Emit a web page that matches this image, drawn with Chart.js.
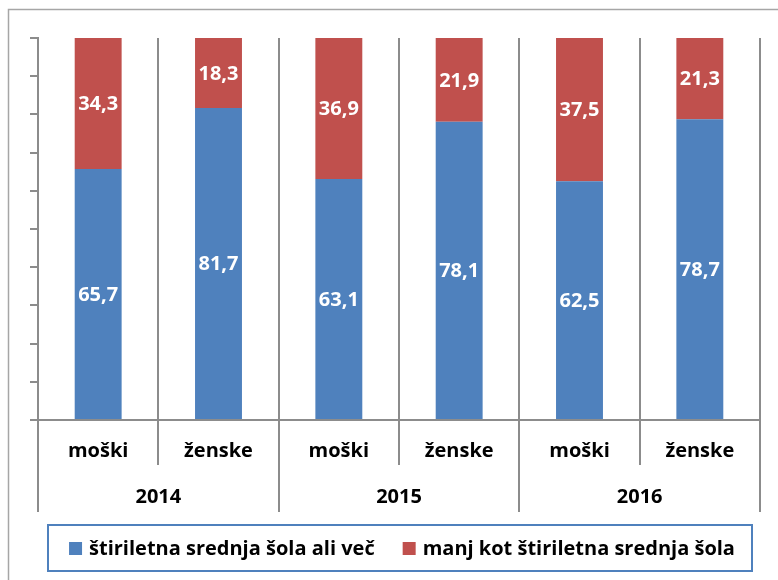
<!DOCTYPE html>
<html>
<head>
<meta charset="utf-8">
<script src="https://cdn.jsdelivr.net/npm/chart.js@4"></script>
<style>
  html, body { margin: 0; padding: 0; background: #fff; }
  canvas { display: block; }
</style>
</head>
<body>
<canvas id="myChart" width="778" height="580"></canvas>
<script>
// data
const categories = ['moški', 'ženske', 'moški', 'ženske', 'moški', 'ženske'];
const years = ['2014', '2015', '2016'];
const fourYearOrMore = [65.7, 81.7, 63.1, 78.1, 62.5, 78.7];
const lessThanFourYear = [34.3, 18.3, 36.9, 21.9, 37.5, 21.3];
const seriesNames = ['štiriletna srednja šola ali več', 'manj kot štiriletna srednja šola'];
const seriesColors = ['#4F81BD', '#C0504D'];

const FONT = '"Open Sans", sans-serif';
const GRID = '#8c8c8c';

// labels, year groups, legend and frame
const extras = {
  id: 'extras',
  beforeDraw(chart) {
    const ctx = chart.ctx;
    ctx.save();
    ctx.strokeStyle = '#a6a6a6';
    ctx.lineWidth = 1.5;
    ctx.beginPath();
    ctx.moveTo(8.5, 580);
    ctx.lineTo(8.5, 9.5);
    ctx.lineTo(778, 9.5);
    ctx.stroke();
    ctx.restore();
  },
  afterDraw(chart) {
    const ctx = chart.ctx;
    const x = chart.scales.x;
    const area = chart.chartArea;
    ctx.save();

    // values inside the bars
    ctx.fillStyle = '#fff';
    ctx.font = 'bold 20px ' + FONT;
    ctx.textAlign = 'center';
    ctx.textBaseline = 'middle';
    chart.data.datasets.forEach((ds, di) => {
      chart.getDatasetMeta(di).data.forEach((bar, i) => {
        const txt = ds.data[i].toFixed(1).replace('.', ',');
        ctx.fillText(txt, bar.x, (bar.y + bar.base) / 2 + 1);
      });
    });

    // category labels
    ctx.fillStyle = '#000';
    categories.forEach((c, i) => {
      ctx.fillText(c, x.getPixelForValue(i), 451);
    });

    // year separators and labels
    ctx.strokeStyle = GRID;
    ctx.lineWidth = 2;
    for (let g = 0; g <= years.length; g++) {
      const px = Math.round(x.getPixelForValue(g * 2 - 0.5));
      ctx.beginPath();
      ctx.moveTo(px, area.bottom);
      ctx.lineTo(px, 512);
      ctx.stroke();
    }
    years.forEach((y, g) => {
      ctx.fillText(y, x.getPixelForValue(g * 2 + 0.5), 497);
    });

    // legend box
    ctx.strokeStyle = '#4F81BD';
    ctx.lineWidth = 2;
    ctx.strokeRect(48, 525, 704, 46);
    ctx.textAlign = 'left';
    const sq = 13, gap = 7, between = 28;
    const widths = seriesNames.map(n => ctx.measureText(n).width);
    const total = widths.reduce((a, w) => a + sq + gap + w, 0) + between;
    let cx = 400 - total / 2 + 2;
    seriesNames.forEach((n, i) => {
      ctx.fillStyle = seriesColors[i];
      ctx.fillRect(cx, 542, sq, sq);
      ctx.fillStyle = '#000';
      ctx.fillText(n, cx + sq + gap, 549);
      cx += sq + gap + widths[i] + between;
    });
    ctx.restore();
  }
};

const ctx = document.getElementById('myChart').getContext('2d');
const myChart = new Chart(ctx, {
  type: 'bar',
  data: {
    labels: categories,
    datasets: [
      { label: seriesNames[0], data: fourYearOrMore, backgroundColor: seriesColors[0] },
      { label: seriesNames[1], data: lessThanFourYear, backgroundColor: seriesColors[1] }
    ]
  },
  options: {
    responsive: false,
    animation: false,
    devicePixelRatio: 1,
    layout: { padding: { top: 38, right: 18, left: 0, bottom: 0 } },
    datasets: { bar: { categoryPercentage: 1, barPercentage: 0.39 } },
    plugins: { legend: { display: false }, tooltip: { enabled: false } },
    scales: {
      x: {
        stacked: true,
        afterFit: s => { s.height = 160; },
        ticks: { display: false },
        grid: { offset: true, color: GRID, lineWidth: 2, tickLength: 45 },
        border: { color: GRID, width: 2 }
      },
      y: {
        stacked: true,
        min: 0,
        max: 100,
        afterFit: s => { s.width = 38; },
        ticks: { display: false, stepSize: 10 },
        grid: { drawOnChartArea: false, color: GRID, lineWidth: 2, tickLength: 8 },
        border: { color: GRID, width: 2 }
      }
    }
  },
  plugins: [extras]
});
</script>
</body>
</html>
